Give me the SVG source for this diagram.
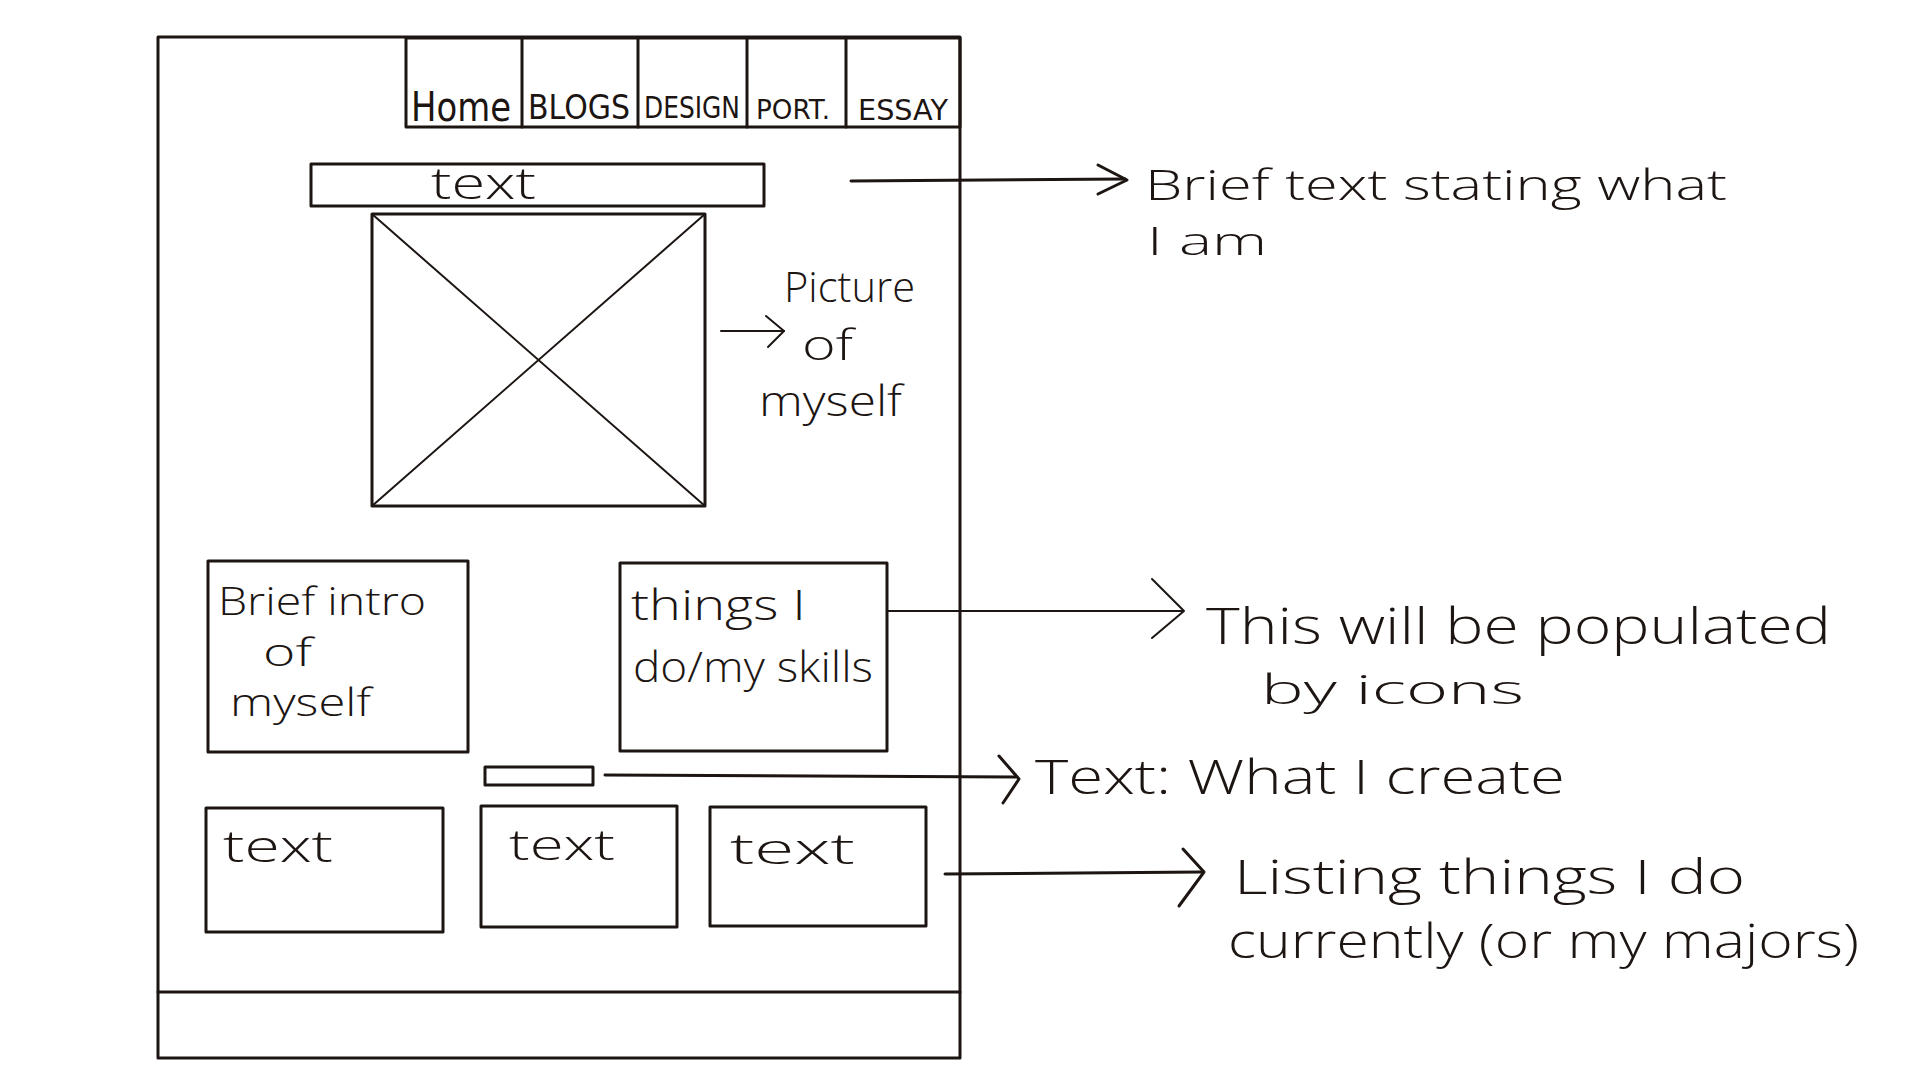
<svg xmlns="http://www.w3.org/2000/svg" width="1920" height="1080" viewBox="0 0 1920 1080">
  <style>
    .ink { fill: none; stroke: #1c1512; stroke-width: 3; stroke-linecap: round; stroke-linejoin: round; }
    .thin { fill: none; stroke: #1c1512; stroke-width: 2; stroke-linecap: round; stroke-linejoin: round; }
    .hand { font-family: "Open Sans", "Noto Sans", "DejaVu Sans", sans-serif; font-weight: 300; fill: #1c1512; }
    .nav { font-family: "DejaVu Sans", "Liberation Sans", sans-serif; font-weight: 400; fill: #1c1512; }
  </style>
  <rect width="1920" height="1080" fill="#ffffff"/>

  <!-- page frame with footer -->
  <g id="page">
    <rect class="ink" x="158" y="37" width="802" height="1021"/>
    <line class="ink" x1="158" y1="992" x2="960" y2="992"/>
  </g>

  <!-- navigation bar -->
  <g id="nav">
    <rect class="ink" x="406" y="38" width="554" height="89"/>
    <line class="ink" x1="522" y1="38" x2="522" y2="127"/>
    <line class="ink" x1="638" y1="38" x2="638" y2="127"/>
    <line class="ink" x1="747" y1="38" x2="747" y2="127"/>
    <line class="ink" x1="846" y1="38" x2="846" y2="127"/>
    <text class="nav" x="411" y="121" font-size="40" textLength="100" lengthAdjust="spacingAndGlyphs">Home</text>
    <text class="nav" x="528" y="119" font-size="34" textLength="102" lengthAdjust="spacingAndGlyphs">BLOGS</text>
    <text class="nav" x="644" y="118" font-size="30" textLength="96" lengthAdjust="spacingAndGlyphs">DESIGN</text>
    <text class="nav" x="756" y="119" font-size="26" textLength="74" lengthAdjust="spacingAndGlyphs">PORT.</text>
    <text class="nav" x="858" y="120" font-size="28" textLength="90" lengthAdjust="spacingAndGlyphs">ESSAY</text>
  </g>

  <!-- headline bar -->
  <g id="headline">
    <rect class="ink" x="311" y="164" width="453" height="42"/>
    <text class="hand" x="431" y="199" font-size="44" textLength="105" lengthAdjust="spacingAndGlyphs">text</text>
  </g>

  <!-- picture placeholder -->
  <g id="picture">
    <rect class="ink" x="372" y="214" width="333" height="292"/>
    <line class="thin" x1="372" y1="214" x2="705" y2="506"/>
    <line class="thin" x1="705" y1="214" x2="372" y2="506"/>
  </g>

  <!-- intro box -->
  <g id="intro">
    <rect class="ink" x="208" y="561" width="260" height="191"/>
    <text class="hand" x="218" y="615" font-size="38" textLength="208" lengthAdjust="spacingAndGlyphs">Brief intro</text>
    <text class="hand" x="263" y="666" font-size="38" textLength="49" lengthAdjust="spacingAndGlyphs">of</text>
    <text class="hand" x="230" y="716" font-size="38" textLength="141" lengthAdjust="spacingAndGlyphs">myself</text>
  </g>

  <!-- skills box -->
  <g id="skills">
    <rect class="ink" x="620" y="563" width="267" height="188"/>
    <text class="hand" x="631" y="620" font-size="42" textLength="175" lengthAdjust="spacingAndGlyphs">things I</text>
    <text class="hand" x="633" y="682" font-size="42" textLength="240" lengthAdjust="spacingAndGlyphs">do/my skills</text>
  </g>

  <!-- section heading bar -->
  <g id="create-bar">
    <rect class="ink" x="485" y="767" width="108" height="18"/>
  </g>

  <!-- three listing boxes -->
  <g id="list-1">
    <rect class="ink" x="206" y="808" width="237" height="124"/>
    <text class="hand" x="223" y="862" font-size="44" textLength="110" lengthAdjust="spacingAndGlyphs">text</text>
  </g>
  <g id="list-2">
    <rect class="ink" x="481" y="806" width="196" height="121"/>
    <text class="hand" x="509" y="860" font-size="42" textLength="106" lengthAdjust="spacingAndGlyphs">text</text>
  </g>
  <g id="list-3">
    <rect class="ink" x="710" y="807" width="216" height="119"/>
    <text class="hand" x="730" y="864" font-size="42" textLength="125" lengthAdjust="spacingAndGlyphs">text</text>
  </g>

  <!-- annotations -->
  <g id="note-headline">
    <text class="hand" x="1145" y="200" font-size="42" textLength="582" lengthAdjust="spacingAndGlyphs">Brief text stating what</text>
    <text class="hand" x="1147" y="255" font-size="38" textLength="120" lengthAdjust="spacingAndGlyphs">I am</text>
  </g>
  <g id="note-picture">
    <text class="hand" x="784" y="302" font-size="42" textLength="131" lengthAdjust="spacingAndGlyphs">Picture</text>
    <text class="hand" x="802" y="360" font-size="42" textLength="51" lengthAdjust="spacingAndGlyphs">of</text>
    <text class="hand" x="759" y="416" font-size="42" textLength="143" lengthAdjust="spacingAndGlyphs">myself</text>
  </g>
  <g id="note-skills">
    <text class="hand" x="1206" y="644" font-size="50" textLength="625" lengthAdjust="spacingAndGlyphs">This will be populated</text>
    <text class="hand" x="1261" y="704" font-size="40" textLength="263" lengthAdjust="spacingAndGlyphs">by icons</text>
  </g>
  <g id="note-create">
    <text class="hand" x="1035" y="794" font-size="48" textLength="530" lengthAdjust="spacingAndGlyphs">Text: What I create</text>
  </g>
  <g id="note-list">
    <text class="hand" x="1234" y="894" font-size="48" textLength="511" lengthAdjust="spacingAndGlyphs">Listing things I do</text>
    <text class="hand" x="1228" y="958" font-size="48" textLength="631" lengthAdjust="spacingAndGlyphs">currently (or my majors)</text>
  </g>

  <!-- connectors with open chevron heads -->
  <g id="connectors">
    <line class="ink" x1="851" y1="181" x2="1125" y2="179"/>
    <polyline class="ink" points="1098,165 1127,180 1098,194"/>

    <line class="thin" x1="721" y1="331" x2="784" y2="331"/>
    <polyline class="thin" points="766,316 784,331 768,347"/>

    <line class="thin" x1="887" y1="611" x2="1182" y2="611"/>
    <polyline class="thin" points="1152,579 1184,611 1152,638"/>

    <line class="ink" x1="605" y1="775" x2="1016" y2="777"/>
    <polyline class="ink" points="999,756 1019,779 1003,803"/>

    <line class="ink" x1="945" y1="874" x2="1202" y2="872"/>
    <polyline class="ink" points="1183,849 1204,872 1179,906"/>
  </g>
</svg>
